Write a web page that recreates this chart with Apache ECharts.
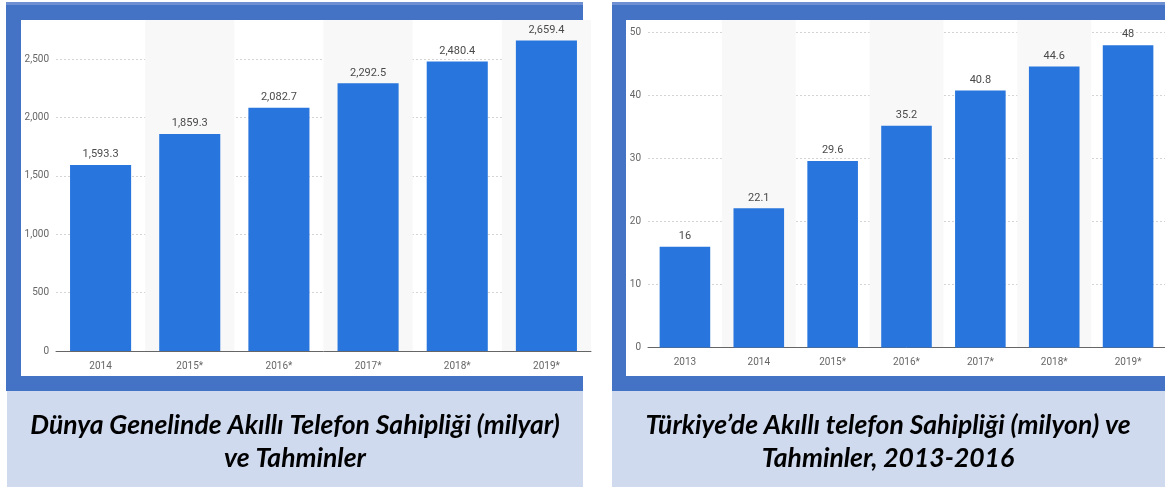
<!DOCTYPE html>
<html>
<head>
<meta charset="utf-8">
<script src="https://cdn.jsdelivr.net/npm/echarts@6/dist/echarts.min.js"></script>
<style>
html,body{margin:0;padding:0;background:#fff;}
#main{width:1165px;height:488px;}
</style>
</head>
<body>
<div id="main"></div>
<script>
// dunya (milyar) - sol grafik
var worldYears = ['2014', '2015*', '2016*', '2017*', '2018*', '2019*'];
var worldValues = [1593.3, 1859.3, 2082.7, 2292.5, 2480.4, 2659.4];
// turkiye (milyon) - sag grafik
var trYears = ['2013', '2014', '2015*', '2016*', '2017*', '2018*', '2019*'];
var trValues = [16, 22.1, 29.6, 35.2, 40.8, 44.6, 48];

var captionLeft = 'Dünya Genelinde Akıllı Telefon Sahipliği (milyar)\nve Tahminler';
var captionRight = 'Türkiye’de Akıllı telefon Sahipliği (milyon) ve\nTahminler, 2013-2016';

var frameBlue = '#4472c4';
var capBg = '#cfdaef';
var barBlue = '#2876dd';
var lblFont = 'Roboto';

function fmtWorld(v){
	return v.toLocaleString('en-US', {minimumFractionDigits: 1, maximumFractionDigits: 1});
}

function xAxisOf(idx, data){
	return {
		type: 'category',
		gridIndex: idx,
		data: data,
		axisTick: {show: false},
		axisLine: {lineStyle: {color: '#666', width: 1}},
		axisLabel: {color: '#666', fontSize: 10, fontFamily: lblFont, margin: 10},
		splitArea: {show: true, areaStyle: {color: ['rgba(255,255,255,0)', '#f8f8f8']}}
	};
}

function yAxisOf(idx, max, interval, fmt){
	return {
		type: 'value',
		gridIndex: idx,
		min: 0,
		max: max,
		interval: interval,
		axisLine: {show: false},
		axisTick: {show: false},
		axisLabel: {color: '#666', fontSize: 10, fontFamily: lblFont, margin: 7, showMaxLabel: false, formatter: fmt},
		splitLine: {showMaxLine: false, lineStyle: {color: '#d4d4d4', type: [2, 2]}}
	};
}

var capStyle = {fontFamily: 'Lato', fontStyle: 'italic', fontWeight: 'bold', fontSize: 26.5, lineHeight: 33, color: '#000'};

var myChart = echarts.init(document.getElementById('main'));
var option = {
	backgroundColor: '#fff',
	animation: false,
	title: [{
		text: captionLeft,
		left: 290, top: 404, textAlign: 'center',
		textStyle: capStyle
	},{
		text: captionRight,
		left: 883, top: 404, textAlign: 'center',
		textStyle: capStyle
	}],
	graphic: [
		// left panel
		{type: 'rect', z: -10, shape: {x: 6, y: 2, width: 577, height: 389}, style: {fill: frameBlue}},
		{type: 'rect', z: -9, shape: {x: 6, y: 2, width: 577, height: 3}, style: {fill: '#6e90d2'}},
		{type: 'rect', z: -9, shape: {x: 7, y: 391, width: 576, height: 96}, style: {fill: capBg}},
		{type: 'rect', z: -8, shape: {x: 21, y: 20, width: 570, height: 356}, style: {fill: '#fff'}},
		// right panel
		{type: 'rect', z: -10, shape: {x: 612, y: 2, width: 553, height: 389}, style: {fill: frameBlue}},
		{type: 'rect', z: -9, shape: {x: 612, y: 2, width: 553, height: 3}, style: {fill: '#6e90d2'}},
		{type: 'rect', z: -9, shape: {x: 612, y: 391, width: 553, height: 96}, style: {fill: capBg}},
		{type: 'rect', z: -8, shape: {x: 626, y: 20, width: 539, height: 356}, style: {fill: '#fff'}}
	],
	grid: [
		{left: 56, top: 20, width: 535, height: 331},
		{left: 648, top: 20, width: 522, height: 327.5}
	],
	xAxis: [xAxisOf(0, worldYears), xAxisOf(1, trYears)],
	yAxis: [
		yAxisOf(0, 2835, 500, function(v){ return v.toLocaleString('en-US'); }),
		yAxisOf(1, 52, 10, null)
	],
	series: [{
		type: 'bar',
		xAxisIndex: 0, yAxisIndex: 0,
		data: worldValues,
		barWidth: '68.5%',
		itemStyle: {color: barBlue},
		label: {show: true, position: 'top', distance: 5, color: '#4a4a4a', fontSize: 11, fontFamily: lblFont,
			formatter: function(p){ return fmtWorld(p.value); }}
	},{
		type: 'bar',
		xAxisIndex: 1, yAxisIndex: 1,
		data: trValues,
		barWidth: '68.5%',
		itemStyle: {color: barBlue},
		label: {show: true, position: 'top', distance: 5, color: '#4a4a4a', fontSize: 11, fontFamily: lblFont}
	}]
};
myChart.setOption(option);
</script>
</body>
</html>
